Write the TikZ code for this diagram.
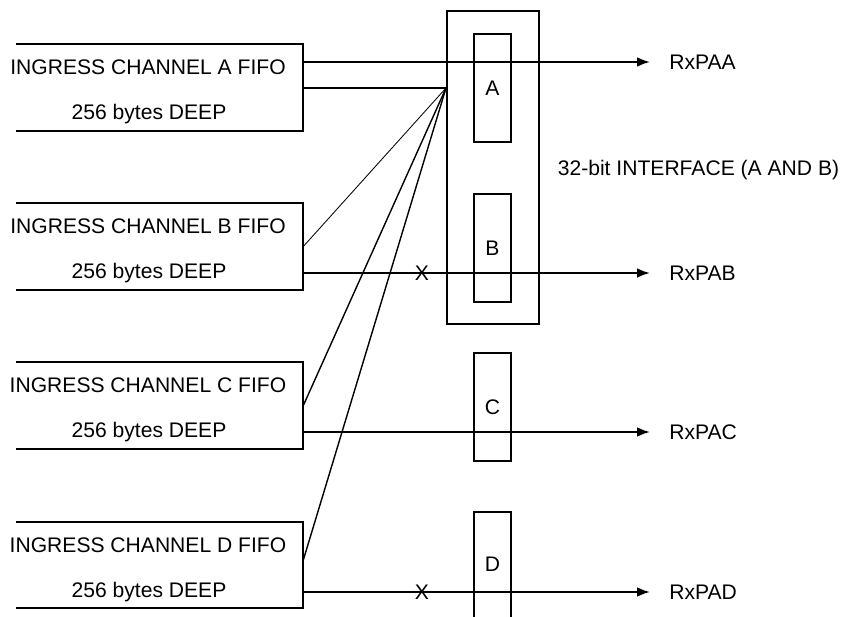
\documentclass[tikz,border=0pt]{standalone}
\usepackage{fontspec}
\setmainfont{Liberation Sans}
\usetikzlibrary{arrows.meta,positioning,calc}

\tikzset{
  box/.style={line width=1.4pt},
  port/.style={rectangle, draw, line width=1.4pt, minimum width=0.925cm, minimum height=2.7cm, inner sep=0pt},
  sig/.style={line width=1.4pt, -{Latex[length=3.2mm,width=2.4mm]}},
  lbl/.style={inner sep=0pt},
}

\begin{document}
\begin{tikzpicture}[x=0.025cm, y=-0.025cm, font=\fontsize{15}{18}\selectfont]
    \useasboundingbox (0,0) rectangle (843,617);

    % Ingress FIFOs (open on the left)
    \foreach \ch/\y in {A/87.5, B/246.5, C/405.5, D/565} {
        \node[minimum width=7.175cm, minimum height=2.15cm, inner sep=0pt] (fifo\ch) at (159.5,\y) {};
        \draw[box] (fifo\ch.north west) -- (fifo\ch.north east) -- (fifo\ch.south east) -- (fifo\ch.south west);
        \node[lbl] (name\ch) at (148,\y-20) {INGRESS CHANNEL \ch\ FIFO};
        \node[lbl] (depth\ch) at (149,\y+27) {256 bytes DEEP};
    }

    % 32-bit interface
    \node[rectangle, draw, line width=1.4pt, minimum width=2.3cm, minimum height=7.825cm] (ifAB) at (493,167.5) {};
    \node[port] (portA) at (492.5,88) {A};
    \node[port] (portB) at (492.5,248) {B};
    \node[port] (portC) at (492.5,407) {C};
    % port D runs off the bottom
    \node[minimum width=0.925cm, minimum height=2.625cm, inner sep=0pt] (portD) at (492.5,564.5) {D};
    \draw[box] (portD.south west) -- (portD.north west) -- (portD.north east) -- (portD.south east);
    \node[lbl] (ifLabel) at (698.5,170) {32-bit INTERFACE (A AND B)};

    % Outputs
    \foreach \ch/\y in {A/62, B/273, C/432, D/592}
        \node[lbl, anchor=west] (rx\ch) at (669,\y) {RxPA\ch};
    \draw[sig] (fifoA.east |- rxA) -- ([xshift=-0.475cm]rxA.west);
    \draw[sig] (fifoB.east |- rxB) -- ([xshift=-0.475cm]rxB.west);
    \draw[sig] (fifoC.east |- rxC) -- ([xshift=-0.475cm]rxC.west);
    \draw[sig] (fifoD.east |- rxD) -- ([xshift=-0.475cm]rxD.west);

    % Fan-in to the interface
    \coordinate (hub) at (ifAB.west |- 0,88);
    \draw[box] (fifoA.east |- hub) -- (hub);
    \draw[line width=0.6pt] (fifoB.east) -- (hub);
    \draw[line width=1pt] (fifoC.east) -- (hub);
    \draw[line width=1pt] ([yshift=0.125cm]fifoD.east) -- (hub);

    % Blocked paths
    \node[lbl] (xB) at (422,273) {X};
    \node[lbl] (xD) at (422,592) {X};
\end{tikzpicture}
\end{document}
